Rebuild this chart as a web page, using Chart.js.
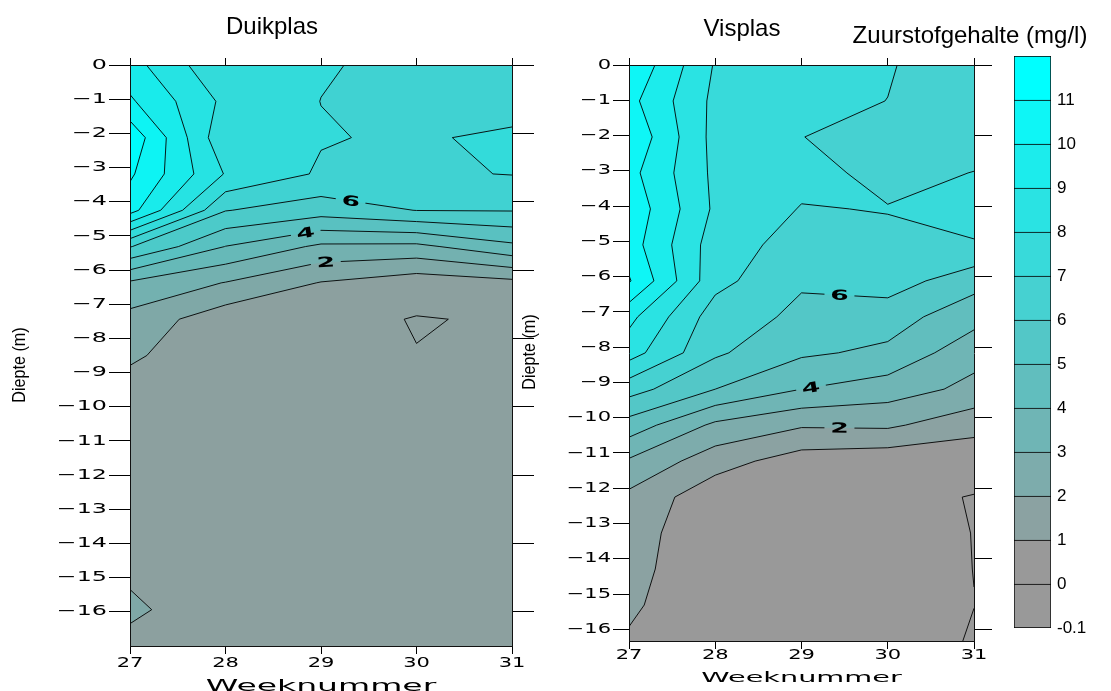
<!DOCTYPE html>
<html>
<head>
<meta charset="utf-8">
<script src="https://cdn.jsdelivr.net/npm/chart.js@4.4.1/dist/chart.umd.min.js"></script>
<style>
html,body{margin:0;padding:0;background:#fff;width:1111px;height:691px;overflow:hidden;}
canvas{position:absolute;left:0;top:0;}
</style>
</head>
<body>
<canvas id="duik" width="1111" height="691"></canvas>
<canvas id="vis" width="1111" height="691"></canvas>
<canvas id="bar" width="1111" height="691"></canvas>
<script>
// ---------------- DATA ----------------
const weeks = [27, 28, 29, 30, 31];
const weekTicks = [27, 28, 29, 30, 31];
const depthTicksLeft = [0, -1, -2, -3, -4, -5, -6, -7, -8, -9, -10, -11, -12, -13, -14, -15, -16];
const depthTicksRight = [0, -2, -4, -6, -8, -10, -12, -14, -16];
const contourLevels = [0, 1, 2, 3, 4, 5, 6, 7, 8, 9, 10, 11];
const colorbarLabels = ['-0.1', '0', '1', '2', '3', '4', '5', '6', '7', '8', '9', '10', '11'];

// Duikplas: oxygen (mg/l) per week, at the sample depths below
const duikplasDepths = [0, -1.0625, -2.125, -3.1875, -4.25, -5.3125, -6.375, -7.4375, -8.5, -9.5625, -10.625, -11.6875, -12.75, -13.8125, -14.875, -15.9375, -17];
const duikplasWeek27 = [9.39, 10.14, 11.73, 11.16, 10.4, 6.05, 2.84, 1.66, 1.15, 0.6, 0.5, 0.5, 0.55, 0.6, 0.8, 1.25, 0.6];
const duikplasWeek28 = [7.12, 7.76, 7.18, 7.93, 6.04, 3.98, 1.96, 0.38, 0.3, 0.35, 0.4, 0.4, 0.4, 0.4, 0.35, 0.15, 0.3];
const duikplasWeek29 = [7.08, 6.99, 7.07, 6.87, 5.47, 2.81, 0.95, 0.27, 0.3, 0.35, 0.4, 0.45, 0.4, 0.4, 0.4, 0.4, 0.4];
const duikplasWeek30 = [6.75, 6.8, 6.85, 6.88, 6.02, 2.75, 0.39, -0.04, 0.02, 0.2, 0.3, 0.35, 0.4, 0.4, 0.4, 0.4, 0.4];
const duikplasWeek31 = [6.6, 6.4, 7.25, 7.03, 6.05, 3.77, 0.7, 0.08, 0.2, 0.3, 0.35, 0.4, 0.4, 0.4, 0.4, 0.4, 0.4];
const duikplasLabelLevels = [6, 4, 2];
const duikplasLabelWeeks = [29.31, 28.84, 29.05];

// Visplas
const visplasDepths = [0, -1.02, -2.04, -3.06, -4.08, -5.1, -6.12, -7.14, -8.16, -9.19, -10.21, -11.23, -12.25, -13.27, -14.29, -15.31, -16.33];
const visplasWeek27 = [10.9, 10.31, 10.86, 10.33, 10.72, 10.48, 11.09, 9.28, 8.43, 6.4, 4.57, 2.87, 1.76, 1.55, 1.35, 1.15, 0.9];
const visplasWeek28 = [7.91, 7.75, 7.66, 7.77, 7.82, 7.49, 7.32, 6.5, 6.16, 5.0, 2.79, 1.43, 0.33, 0.08, 0.2, 0.3, 0.3];
const visplasWeek29 = [7.4, 7.3, 7.02, 7.3, 6.95, 6.6, 6.1, 5.8, 5.15, 4.0, 2.11, 0.5, 0.4, 0.35, 0.4, 0.45, 0.45];
const visplasWeek30 = [7.08, 6.99, 6.5, 6.73, 7.04, 6.77, 6.5, 5.44, 4.8, 3.49, 2.17, 0.31, 0.19, 0.48, 0.5, 0.5, 0.67];
const visplasWeek31 = [6.35, 6.4, 6.6, 7.02, 7.15, 6.97, 5.37, 4.38, 3.33, 2.74, 1.34, 0.35, -0.03, -0.02, -0.01, 0.01, -0.1];
const visplasLabelLevels = [6, 4, 2];
const visplasLabelWeeks = [29.44, 29.11, 29.44];

// ---------------- STYLE ----------------
const SANS = "'Liberation Sans', Arial, sans-serif";
const WIDE = "'DejaVu Sans', sans-serif";
function hex(c){return [parseInt(c.slice(1,3),16),parseInt(c.slice(3,5),16),parseInt(c.slice(5,7),16)];}
function lerpColor(a,b,t){const A=hex(a),B=hex(b);return 'rgb('+A.map((v,i)=>Math.round(v+(B[i]-v)*t)).join(',')+')';}
// colors[0] = below first level, colors[k+1] = band [level k, level k+1)
const visColors = ['#999999'].concat(contourLevels.map((l,k)=>lerpColor('#999999','#00ffff',k/11)));
const duikColors = ['#8ca09f'].concat(contourLevels.map((l,k)=>lerpColor('#8ca09f','#00fcfc',k/11)));

function drawText(ctx, text, x, y, o) {
  ctx.save();
  ctx.font = o.font; ctx.fillStyle = o.color || '#000';
  ctx.textBaseline = o.baseline || 'middle'; ctx.textAlign = 'left';
  const sx = o.sx || 1;
  const w = ctx.measureText(text).width * sx;
  ctx.translate(x, y);
  if (o.rotate) ctx.rotate(o.rotate);
  const off = o.align === 'right' ? -w : (o.align === 'center' ? -w / 2 : 0);
  ctx.translate(off, 0);
  ctx.scale(sx, 1);
  ctx.fillText(text, 0, 0);
  ctx.restore();
  return w;
}
function fmtDepth(v){return v === 0 ? '0' : '\u2212' + Math.abs(v);}

const contourPlugin = {
  id: 'contour',
  beforeDraw(chart, args, o) {
    const {ctx, chartArea: a, scales: {x, y}} = chart;
    const W = o.weeks, D = o.depths, G = o.values, L = o.levels, C = o.colors;
    const P = (i, j) => [x.getPixelForValue(W[i]), y.getPixelForValue(D[j])];
    ctx.save();
    ctx.beginPath(); ctx.rect(a.left, a.top, a.right - a.left, a.bottom - a.top); ctx.clip();
    ctx.fillStyle = C[0]; ctx.fillRect(a.left, a.top, a.right - a.left, a.bottom - a.top);
    const segs = {};
    L.forEach((lev, li) => {
      segs[lev] = [];
      ctx.beginPath();
      for (let i = 0; i < W.length - 1; i++) for (let j = 0; j < D.length - 1; j++) {
        const cs = [[i, j], [i + 1, j], [i + 1, j + 1], [i, j + 1]];
        const vals = cs.map(c => G[c[0]][c[1]]);
        const pts = cs.map(c => P(c[0], c[1]));
        const poly = [];
        for (let k = 0; k < 4; k++) {
          const k2 = (k + 1) % 4, h1 = vals[k] >= lev, h2 = vals[k2] >= lev;
          if (h1) poly.push({p: pts[k], c: false});
          if (h1 !== h2) {
            const t = (lev - vals[k]) / (vals[k2] - vals[k]);
            poly.push({p: [pts[k][0] + t * (pts[k2][0] - pts[k][0]), pts[k][1] + t * (pts[k2][1] - pts[k][1])], c: true});
          }
        }
        if (poly.length >= 3) {
          ctx.moveTo(poly[0].p[0], poly[0].p[1]);
          for (let k = 1; k < poly.length; k++) ctx.lineTo(poly[k].p[0], poly[k].p[1]);
          ctx.closePath();
          for (let k = 0; k < poly.length; k++) {
            const q = poly[k], r = poly[(k + 1) % poly.length];
            if (q.c && r.c) segs[lev].push([q.p[0], q.p[1], r.p[0], r.p[1]]);
          }
        }
      }
      ctx.fillStyle = C[li + 1]; ctx.fill();
    });
    // contour labels
    const labels = [];
    o.labelLevels.forEach((lev, n) => {
      const px = x.getPixelForValue(o.labelWeeks[n]);
      const s = segs[lev].find(s => Math.min(s[0], s[2]) <= px && px <= Math.max(s[0], s[2]) && s[0] !== s[2]);
      if (!s) return;
      const t = (px - s[0]) / (s[2] - s[0]);
      const py = s[1] + t * (s[3] - s[1]);
      let ang = Math.atan2(s[3] - s[1], s[2] - s[0]);
      if (ang > Math.PI / 2) ang -= Math.PI; if (ang < -Math.PI / 2) ang += Math.PI;
      labels.push({text: String(lev), x: px, y: py, ang});
    });
    // lines with gaps at labels
    ctx.save();
    ctx.beginPath();
    ctx.rect(a.left, a.top, a.right - a.left, a.bottom - a.top);
    labels.forEach(l => {
      const hw = 15, hh = 7, c = Math.cos(l.ang), s = Math.sin(l.ang);
      const corners = [[-hw, -hh], [hw, -hh], [hw, hh], [-hw, hh]].map(([u, v]) => [l.x + u * c - v * s, l.y + u * s + v * c]);
      ctx.moveTo(corners[0][0], corners[0][1]);
      corners.slice(1).forEach(p => ctx.lineTo(p[0], p[1]));
      ctx.closePath();
    });
    ctx.clip('evenodd');
    ctx.beginPath();
    L.forEach(lev => segs[lev].forEach(s => { ctx.moveTo(s[0], s[1]); ctx.lineTo(s[2], s[3]); }));
    ctx.strokeStyle = '#000'; ctx.lineWidth = 0.9; ctx.lineJoin = 'round';
    ctx.stroke();
    ctx.restore();
    labels.forEach(l => drawText(ctx, l.text, l.x, l.y + 1, {font: 'bold 14px ' + WIDE, sx: 1.9, align: 'center', rotate: l.ang}));
    ctx.restore();
  },
  afterDraw(chart, args, o) {
    const {ctx, chartArea: a, scales: {x, y}} = chart;
    y.ticks.forEach(t => drawText(ctx, fmtDepth(t.value), a.left - o.yLabelGap, y.getPixelForValue(t.value), {font: '14px ' + WIDE, sx: o.ySx, align: 'right'}));
    x.ticks.forEach(t => drawText(ctx, String(t.value), x.getPixelForValue(t.value), a.bottom + o.xLabelGap, {font: '14px ' + WIDE, sx: 1.5, align: 'center'}));
    drawText(ctx, 'Weeknummer', (a.left + a.right) / 2, a.bottom + o.xTitleGap, {font: o.xTitleFont, sx: o.xTitleSx, align: 'center', baseline: 'alphabetic'});
    drawText(ctx, 'Diepte (m)', a.left - o.yTitleGap, o.yTitleY, {font: '19px ' + SANS, sx: 0.85, align: 'center', rotate: -Math.PI / 2});
    drawText(ctx, o.title, o.titleX, o.titleY, {font: '24px ' + SANS, align: 'center'});
  }
};

function axis(position, ticksArr, min, max, tickLen, size) {
  return {
    type: 'linear', position, min, max,
    afterBuildTicks: s => { s.ticks = ticksArr.map(v => ({value: v})); },
    afterFit: s => { if (position === 'left' || position === 'right') s.width = size; else s.height = size; },
    ticks: {display: false},
    grid: {display: true, drawOnChartArea: false, drawTicks: true, tickLength: tickLen, color: '#000', lineWidth: 1},
    border: {display: true, color: '#111', width: 1}
  };
}

function panel(id, cfg) {
  return new Chart(document.getElementById(id), {
    type: 'scatter',
    data: {datasets: []},
    options: {
      responsive: false, animation: false, events: [],
      layout: {padding: cfg.padding},
      plugins: {legend: {display: false}, tooltip: {enabled: false}, title: {display: false}, contour: cfg.contour},
      scales: {
        x: axis('bottom', weekTicks, 27, 31, 8, 10),
        xTop: axis('top', weekTicks, 27, 31, 7, 10),
        y: axis('left', depthTicksLeft, cfg.ymin, 0, cfg.leftTick, 25),
        yRight: axis('right', depthTicksRight, cfg.ymin, 0, cfg.rightTick, 25)
      }
    },
    plugins: [contourPlugin]
  });
}

panel('duik', {
  padding: {left: 105, right: 574, top: 55, bottom: 35},
  ymin: -17, leftTick: 21, rightTick: 22,
  contour: {
    weeks, depths: duikplasDepths,
    values: [duikplasWeek27, duikplasWeek28, duikplasWeek29, duikplasWeek30, duikplasWeek31],
    levels: contourLevels, colors: duikColors,
    labelLevels: duikplasLabelLevels, labelWeeks: duikplasLabelWeeks,
    yLabelGap: 23, ySx: 1.7, xLabelGap: 17, xTitleGap: 45, xTitleFont: '15px ' + WIDE, xTitleSx: 2.2,
    yTitleGap: 110, yTitleY: 365, title: 'Duikplas', titleX: 272, titleY: 27
  }
});

panel('vis', {
  padding: {left: 604, right: 112, top: 55, bottom: 40},
  ymin: -16.33, leftTick: 16, rightTick: 18,
  contour: {
    weeks, depths: visplasDepths,
    values: [visplasWeek27, visplasWeek28, visplasWeek29, visplasWeek30, visplasWeek31],
    levels: contourLevels, colors: visColors,
    labelLevels: visplasLabelLevels, labelWeeks: visplasLabelWeeks,
    yLabelGap: 18, ySx: 1.5, xLabelGap: 14, xTitleGap: 41, xTitleFont: '14px ' + WIDE, xTitleSx: 2.05,
    yTitleGap: 99, yTitleY: 352, title: 'Visplas', titleX: 742, titleY: 29
  }
});

// Colorbar: 13 equal boxes, bottom (-0.1..0) to top (>11)
const colorbarColors = ['#999999'].concat(visColors.slice(1));
new Chart(document.getElementById('bar'), {
  type: 'bar',
  data: {
    labels: [''],
    datasets: colorbarColors.map((c, i) => ({
      data: [1], backgroundColor: c, borderColor: '#000',
      borderWidth: {top: 1, left: 1, right: 1, bottom: i === 0 ? 1 : 0},
      borderSkipped: false, barPercentage: 1, categoryPercentage: 1
    }))
  },
  options: {
    responsive: false, animation: false, events: [],
    layout: {padding: {left: 1014, right: 0, top: 56, bottom: 63}},
    plugins: {legend: {display: false}, tooltip: {enabled: false}, title: {display: false}},
    scales: {
      x: {stacked: true, display: false},
      y: {
        stacked: true, min: 0, max: 13, position: 'right',
        afterBuildTicks: s => { s.ticks = colorbarLabels.map((l, i) => ({value: i})); },
        afterFit: s => { s.width = 60; },
        grid: {display: false, drawTicks: false, tickLength: 0}, border: {display: false},
        ticks: {callback: (v) => colorbarLabels[v], font: {family: SANS, size: 17}, color: '#000', padding: 6}
      }
    }
  },
  plugins: [{
    id: 'cbTitle',
    afterDraw(chart) {
      drawText(chart.ctx, 'Zuurstofgehalte (mg/l)', 970, 36, {font: '24px ' + SANS, align: 'center'});
    }
  }]
});
</script>
</body>
</html>
